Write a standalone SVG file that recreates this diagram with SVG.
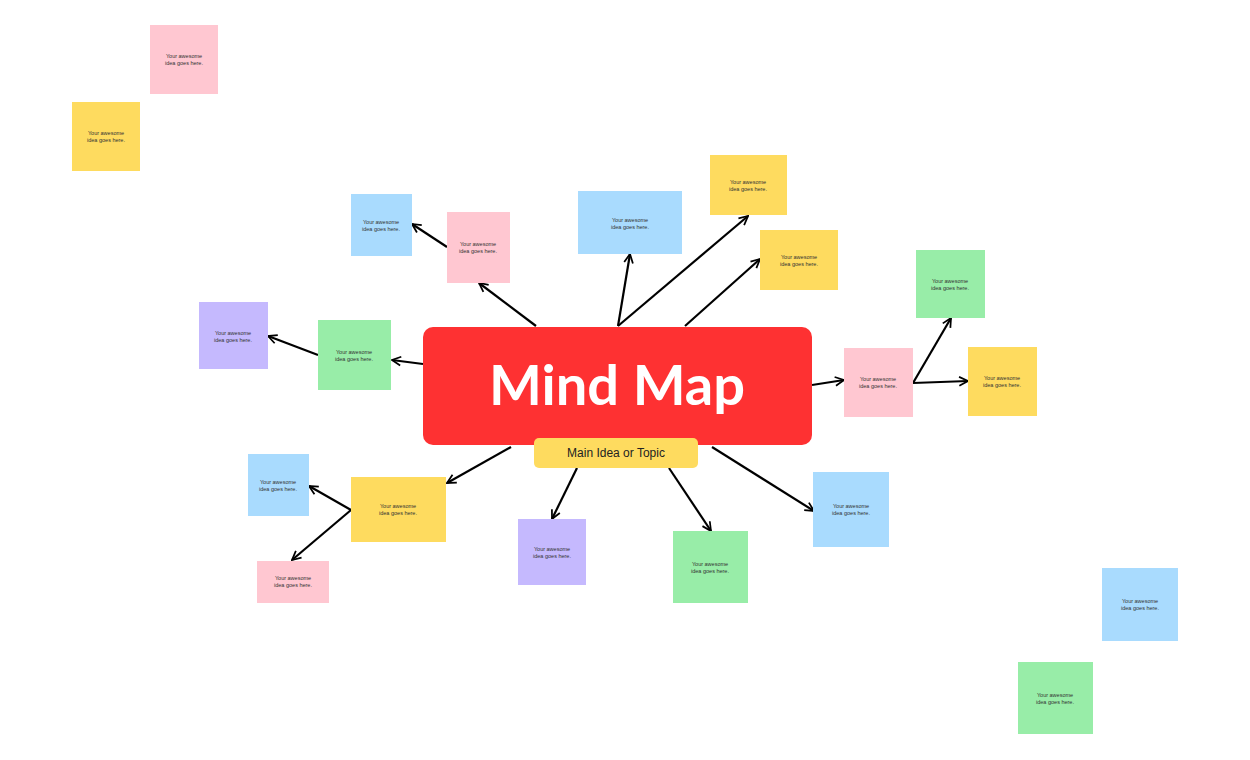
<svg xmlns="http://www.w3.org/2000/svg" width="1250" height="760" viewBox="0 0 1250 760">
<style>
.pk{fill:#ffc7d1}.ye{fill:#fedb5f}.bl{fill:#a9dbfe}.gr{fill:#98eda8}.pu{fill:#c5b9fe}
.t{font-family:"Liberation Sans",Arial,sans-serif;font-size:5.5px;fill:#333;text-anchor:middle}
.c line{stroke:#000;stroke-width:2.2;marker-end:url(#a)}
</style>
<defs><marker id="a" viewBox="0 0 10 10" refX="9" refY="5" markerWidth="5" markerHeight="5" orient="auto" markerUnits="strokeWidth"><path d="M1,1 L9,5 L1,9" fill="none" stroke="#000" stroke-width="1.6"/></marker></defs>
<rect width="1250" height="760" fill="#fff"/>
<g class="c">
<line x1="536" y1="326" x2="479" y2="283"/>
<line x1="447" y1="247" x2="412" y2="224"/>
<line x1="618" y1="326" x2="630" y2="254"/>
<line x1="618" y1="326" x2="748" y2="216"/>
<line x1="685" y1="326" x2="760" y2="259"/>
<line x1="423" y1="364" x2="392" y2="360"/>
<line x1="318" y1="355" x2="268" y2="336"/>
<line x1="812" y1="385" x2="844" y2="380"/>
<line x1="913" y1="383" x2="951" y2="318"/>
<line x1="913" y1="383" x2="968" y2="381"/>
<line x1="511" y1="447" x2="447" y2="483"/>
<line x1="351" y1="510" x2="309" y2="486"/>
<line x1="351" y1="510" x2="292" y2="560"/>
<line x1="577" y1="468" x2="552" y2="519"/>
<line x1="669" y1="468" x2="711" y2="531"/>
<line x1="712" y1="447" x2="814" y2="511"/>
</g>
<g id="center"><rect x="423" y="327" width="389" height="118" rx="10" fill="#fe3132"/>
<text x="617" y="405" font-family="Lato,'Liberation Sans',sans-serif" font-weight="bold" font-size="56" fill="#fff" text-anchor="middle">Mind Map</text></g>
<g id="topic"><rect x="534" y="438" width="164" height="30" rx="5" fill="#fedb5f"/>
<text x="616" y="457" font-family="'Liberation Sans',sans-serif" font-size="12" fill="#222" text-anchor="middle">Main Idea or Topic</text></g>
<g id="n1"><rect class="pk" x="150" y="25" width="68" height="69"/><text class="t" x="184" y="58">Your awesome<tspan x="184" dy="6.5">idea goes here.</tspan></text></g>
<g id="n2"><rect class="ye" x="72" y="102" width="68" height="69"/><text class="t" x="106" y="135">Your awesome<tspan x="106" dy="6.5">idea goes here.</tspan></text></g>
<g id="n3"><rect class="bl" x="351" y="194" width="61" height="62"/><text class="t" x="381" y="224">Your awesome<tspan x="381" dy="6.5">idea goes here.</tspan></text></g>
<g id="n4"><rect class="pk" x="447" y="212" width="63" height="71"/><text class="t" x="478" y="246">Your awesome<tspan x="478" dy="6.5">idea goes here.</tspan></text></g>
<g id="n5"><rect class="bl" x="578" y="191" width="104" height="63"/><text class="t" x="630" y="222">Your awesome<tspan x="630" dy="6.5">idea goes here.</tspan></text></g>
<g id="n6"><rect class="ye" x="710" y="155" width="77" height="60"/><text class="t" x="748" y="184">Your awesome<tspan x="748" dy="6.5">idea goes here.</tspan></text></g>
<g id="n7"><rect class="ye" x="760" y="230" width="78" height="60"/><text class="t" x="799" y="259">Your awesome<tspan x="799" dy="6.5">idea goes here.</tspan></text></g>
<g id="n8"><rect class="gr" x="916" y="250" width="69" height="68"/><text class="t" x="950" y="283">Your awesome<tspan x="950" dy="6.5">idea goes here.</tspan></text></g>
<g id="n9"><rect class="pu" x="199" y="302" width="69" height="67"/><text class="t" x="233" y="335">Your awesome<tspan x="233" dy="6.5">idea goes here.</tspan></text></g>
<g id="n10"><rect class="gr" x="318" y="320" width="73" height="70"/><text class="t" x="354" y="354">Your awesome<tspan x="354" dy="6.5">idea goes here.</tspan></text></g>
<g id="n11"><rect class="pk" x="844" y="348" width="69" height="69"/><text class="t" x="878" y="381">Your awesome<tspan x="878" dy="6.5">idea goes here.</tspan></text></g>
<g id="n12"><rect class="ye" x="968" y="347" width="69" height="69"/><text class="t" x="1002" y="380">Your awesome<tspan x="1002" dy="6.5">idea goes here.</tspan></text></g>
<g id="n13"><rect class="bl" x="248" y="454" width="61" height="62"/><text class="t" x="278" y="484">Your awesome<tspan x="278" dy="6.5">idea goes here.</tspan></text></g>
<g id="n14"><rect class="ye" x="351" y="477" width="95" height="65"/><text class="t" x="398" y="508">Your awesome<tspan x="398" dy="6.5">idea goes here.</tspan></text></g>
<g id="n15"><rect class="pk" x="257" y="561" width="72" height="42"/><text class="t" x="293" y="580">Your awesome<tspan x="293" dy="6.5">idea goes here.</tspan></text></g>
<g id="n16"><rect class="pu" x="518" y="519" width="68" height="66"/><text class="t" x="552" y="551">Your awesome<tspan x="552" dy="6.5">idea goes here.</tspan></text></g>
<g id="n17"><rect class="gr" x="673" y="531" width="75" height="72"/><text class="t" x="710" y="566">Your awesome<tspan x="710" dy="6.5">idea goes here.</tspan></text></g>
<g id="n18"><rect class="bl" x="813" y="472" width="76" height="75"/><text class="t" x="851" y="508">Your awesome<tspan x="851" dy="6.5">idea goes here.</tspan></text></g>
<g id="n19"><rect class="bl" x="1102" y="568" width="76" height="73"/><text class="t" x="1140" y="603">Your awesome<tspan x="1140" dy="6.5">idea goes here.</tspan></text></g>
<g id="n20"><rect class="gr" x="1018" y="662" width="75" height="72"/><text class="t" x="1055" y="697">Your awesome<tspan x="1055" dy="6.5">idea goes here.</tspan></text></g>
</svg>
